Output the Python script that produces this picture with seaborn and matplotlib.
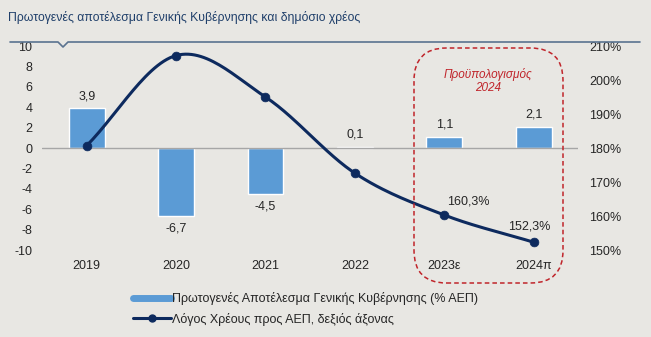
import numpy as np
import pandas as pd
import matplotlib
matplotlib.use("Agg")
import matplotlib.pyplot as plt
import seaborn as sns
from matplotlib.patches import FancyBboxPatch
from matplotlib.lines import Line2D

years = ["2019", "2020", "2021", "2022", "2023ε", "2024π"]
primary_balance = [3.9, -6.7, -4.5, 0.1, 1.1, 2.1]
debt_ratio = [180.7, 207.2, 195.0, 172.6, 160.3, 152.3]
bar_labels = ["3,9", "-6,7", "-4,5", "0,1", "1,1", "2,1"]
debt_labels = {4: "160,3%", 5: "152,3%"}
title = "Πρωτογενές αποτέλεσμα Γενικής Κυβέρνησης και δημόσιο χρέος"
legend_bar = "Πρωτογενές Αποτέλεσμα Γενικής Κυβέρνησης (% ΑΕΠ)"
legend_line = "Λόγος Χρέους προς ΑΕΠ, δεξιός άξονας"
box_text = "Προϋπολογισμός\n2024"

sns.set_theme(style="white")
plt.rcParams['font.family'] = ['Liberation Sans', 'DejaVu Sans']

BG = "#e8e7e3"
BAR = "#5b9bd5"
LINE = "#0d2a5e"

fig = plt.figure(figsize=(6.51, 3.37), dpi=100, facecolor=BG)
ax = fig.add_axes([0.0645, 0.258, 0.824, 0.6055])
ax.set_facecolor(BG)

df = pd.DataFrame({"year": years, "pb": primary_balance, "debt": debt_ratio})
sns.barplot(data=df, x="year", y="pb", color=BAR, width=0.4, ax=ax, saturation=1)
ax.set_ylim(-10, 10)
ax.set_xlim(-0.5, 5.5)
ax.set_yticks(np.arange(-10, 11, 2))
ax.set_yticklabels([str(v) for v in range(-10, 11, 2)], fontsize=9)
ax.axhline(0, color="#a6a6a6", lw=1, zorder=1)
ax.set_xlabel("")
ax.set_ylabel("")
for s in ax.spines.values():
    s.set_visible(False)
ax.tick_params(axis="x", length=0, pad=7, labelsize=9)
ax.tick_params(axis="y", length=0, pad=7, labelsize=9)

for i, (v, lab) in enumerate(zip(primary_balance, bar_labels)):
    if v >= 0:
        ax.text(i, v + 0.6, lab, ha="center", va="bottom", fontsize=9)
    else:
        ax.text(i, v - 0.6, lab, ha="center", va="top", fontsize=9)

ax2 = ax.twinx()
ax2.set_ylim(150, 210)
ax2.set_yticks(np.arange(150, 211, 10))
ax2.set_yticklabels([f"{v}%" for v in range(150, 211, 10)], fontsize=9)
ax2.tick_params(axis="y", length=0, pad=8, labelsize=9)
for s in ax2.spines.values():
    s.set_visible(False)

# smooth curve (Catmull-Rom rendering through the data points)
x = np.arange(len(debt_ratio), dtype=float)
y = np.array(debt_ratio, dtype=float)
px = np.concatenate([[2 * x[0] - x[1]], x, [2 * x[-1] - x[-2]]])
py = np.concatenate([[2 * y[0] - y[1]], y, [2 * y[-1] - y[-2]]])
xs, ys = [], []
t = np.linspace(0, 1, 30)
for k in range(1, len(px) - 2):
    p0, p1, p2, p3 = py[k - 1], py[k], py[k + 1], py[k + 2]
    q0, q1, q2, q3 = px[k - 1], px[k], px[k + 1], px[k + 2]
    f = lambda a0, a1, a2, a3: 0.5 * ((2 * a1) + (-a0 + a2) * t + (2 * a0 - 5 * a1 + 4 * a2 - a3) * t ** 2 + (-a0 + 3 * a1 - 3 * a2 + a3) * t ** 3)
    xs.append(f(q0, q1, q2, q3)); ys.append(f(p0, p1, p2, p3))
ax2.plot(np.concatenate(xs), np.concatenate(ys), color=LINE, lw=2.2, zorder=3)
sns.scatterplot(x=x, y=y, color=LINE, s=40, ax=ax2, zorder=4, edgecolor=LINE)
ax2.set_xlim(-0.5, 5.5)
ax2.set_ylabel("")
ax2.text(4 + 0.03, debt_ratio[4] + 2.3, debt_labels[4], ha="left", va="bottom", fontsize=9)
ax2.text(5 - 0.05, debt_ratio[5] + 3.0, debt_labels[5], ha="center", va="bottom", fontsize=9)

# dashed rounded box
bx0, by0, bx1, by1 = 414 / 651, 1 - 283 / 337, 563 / 651, 1 - 48 / 337
rb = FancyBboxPatch((bx0, by0), bx1 - bx0, by1 - by0, boxstyle="round,pad=0,rounding_size=0.05",
                    transform=fig.transFigure, fill=False, ec="#c0252b", ls=(0, (3, 2)), lw=1.1,
                    mutation_aspect=651 / 337)
fig.patches.append(rb)
fig.text((bx0 + bx1) / 2, 1 - 81 / 337, box_text, ha="center", va="center", color="#c0252b",
         fontsize=8.5, style="italic", linespacing=1.1)

# title and separator line
fig.text(0.013, 1 - 18 / 337, title, ha="left", va="center", fontsize=8.8, color="#1f3f6a")
ly = 1 - 42 / 337
fig.add_artist(Line2D([10 / 651, 58 / 651, 63 / 651, 68 / 651, 640 / 651],
                      [ly, ly, ly - 5 / 337, ly, ly], transform=fig.transFigure, color="#5a7390", lw=1.2))

# legend
handles = [Line2D([0], [0], color=BAR, lw=5),
           Line2D([0], [0], color=LINE, lw=2.2, marker="o", markersize=5)]
fig.legend(handles, [legend_bar, legend_line], loc="upper left", bbox_to_anchor=(0.197, 1 - 287 / 337),
           frameon=False, fontsize=9, handlelength=3, handletextpad=0.1, labelspacing=0.6, borderaxespad=0)

fig.savefig("out.png", dpi=100, facecolor=BG)
